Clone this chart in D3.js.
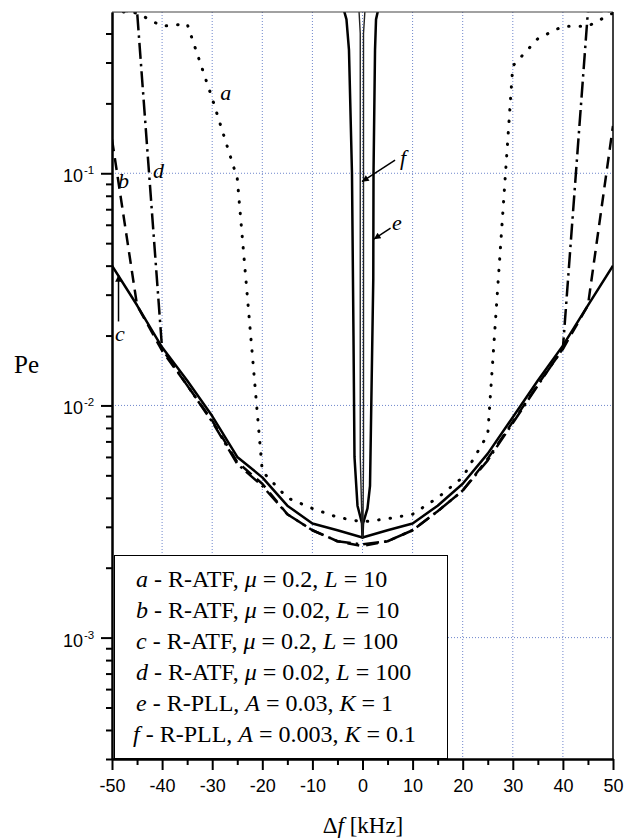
<!DOCTYPE html>
<html>
<head>
<meta charset="utf-8">
<script src="https://cdn.jsdelivr.net/npm/d3@7"></script>
<style>
  body { margin: 0; background: #fff; }
  svg { display: block; }
</style>
</head>
<body>
<svg id="chart"></svg>
<script>
// frequency offset grid (kHz) for the R-ATF curves
const freq = [-50, -45, -40, -35, -30, -25, -20, -15, -10, -5, 0, 5, 10, 15, 20, 25, 30, 35, 40, 45, 50];

// Pe values
const peA = [0.5, 0.49, 0.43, 0.44, 0.21, 0.095, 0.0052, 0.0040, 0.0036, 0.0033, 0.00315, 0.00325, 0.0034, 0.0040, 0.0049, 0.0075, 0.29, 0.38, 0.43, 0.43, 0.49];
const peB = [0.14, 0.027, 0.0172, 0.0122, 0.0086, 0.0057, 0.0046, 0.0034, 0.0029, 0.0026, 0.00248, 0.0026, 0.0029, 0.0035, 0.0043, 0.0059, 0.0085, 0.0123, 0.0175, 0.027, 0.16];
const peC = [0.040, 0.027, 0.0178, 0.0128, 0.0090, 0.0060, 0.0049, 0.0037, 0.0031, 0.0029, 0.0027, 0.0029, 0.0031, 0.0037, 0.0046, 0.0062, 0.0089, 0.0128, 0.0181, 0.027, 0.040];
const peD = [0.5, 0.5, 0.0175, 0.0122, 0.0085, 0.0056, 0.0045, 0.0034, 0.0029, 0.0026, 0.00252, 0.0026, 0.0029, 0.0035, 0.0043, 0.0058, 0.0084, 0.0122, 0.0176, 0.5, 0.5];

// R-PLL curves have their own narrow x grid
const freqE = [-4.2, -3.2, -2.7, -2.1, -1.8, -1.6, -1.0, -0.1, 0, 0.1, 1.0, 1.5, 2.15, 2.2, 2.5, 2.7, 3.5];
const peE = [0.55, 0.46, 0.34, 0.1, 0.02, 0.006, 0.0037, 0.0031, 0.0027, 0.0031, 0.0036, 0.0045, 0.035, 0.1, 0.34, 0.46, 0.55];
const freqF = [-0.8, -0.45, -0.45, -0.1, 0, 0.1, 0.2, 0.2, 0.6];
const peF = [0.55, 0.4, 0.006, 0.0031, 0.0027, 0.0031, 0.006, 0.4, 0.55];

// legend rows
const legKey = ["a", "b", "c", "d", "e", "f"];
const legMethod = ["R-ATF", "R-ATF", "R-ATF", "R-ATF", "R-PLL", "R-PLL"];
const legP1 = ["\u03bc", "\u03bc", "\u03bc", "\u03bc", "A", "A"];
const legV1 = ["0.2", "0.02", "0.2", "0.02", "0.03", "0.003"];
const legP2 = ["L", "L", "L", "L", "K", "K"];
const legV2 = ["10", "10", "100", "100", "1", "0.1"];

// curve labels + arrows (data coords)
const labKey = ["a", "b", "c", "d", "e", "f"];
const labX = [-28.4, -48.8, -49.4, -41.8, 5.9, 7.5];
const labY = [0.207, 0.0865, 0.019, 0.0955, 0.057, 0.109];
const arrows = [
  { x1: -48.7, y1: 0.023, x2: -48.7, y2: 0.0365 },  // c
  { x1: 5.6, y1: 0.058, x2: 2.25, y2: 0.052 },      // e
  { x1: 6.5, y1: 0.114, x2: -0.1, y2: 0.092 }       // f
];

const xTicks = [-50, -40, -30, -20, -10, 0, 10, 20, 30, 40, 50];
const yDecades = [1e-3, 1e-2, 1e-1];
const yExp = ["-3", "-2", "-1"];

const W = 635, H = 838;
const pL = 112, pR = 613, pT = 12, pB = 759;

const svg = d3.select("#chart").attr("width", W).attr("height", H);

const x = d3.scaleLinear().domain([-50, 50]).range([pL, pR]);
const y = d3.scaleLog().domain([3e-4, 0.495]).range([pB, pT]);

const sans = "'Liberation Sans', Arial, sans-serif";
const serif = "'Liberation Serif', 'Times New Roman', serif";
const gridCol = "#6f86cc";

const defs = svg.append("defs");
defs.append("clipPath").attr("id", "clip")
  .append("rect").attr("x", pL).attr("y", pT).attr("width", pR - pL).attr("height", pB - pT);

const marker = defs.append("marker")
  .attr("id", "arrow").attr("viewBox", "0 0 10 10").attr("refX", 10).attr("refY", 5)
  .attr("markerWidth", 7).attr("markerHeight", 4.5).attr("orient", "auto")
  .attr("markerUnits", "strokeWidth");
marker.append("path").attr("d", "M0,0 L10,5 L0,10 z").attr("fill", "#000");

// grid
const grid = svg.append("g");
grid.selectAll("line.v").data(xTicks.filter(d => d > -50 && d < 50)).enter().append("line")
  .attr("x1", d => x(d)).attr("x2", d => x(d)).attr("y1", pT).attr("y2", pB)
  .attr("stroke", gridCol).attr("stroke-width", 1).attr("stroke-dasharray", "1,2");
grid.selectAll("line.h").data(yDecades).enter().append("line")
  .attr("x1", pL).attr("x2", pR).attr("y1", d => y(d)).attr("y2", d => y(d))
  .attr("stroke", gridCol).attr("stroke-width", 1).attr("stroke-dasharray", "1,2");

// curves
const line = d3.line().x(d => x(d[0])).y(d => y(d[1]));
const series = [
  { xs: freq, ys: peA, dash: "0.5,11", w: 3, cap: "round", col: "#000" },
  { xs: freq, ys: peB, dash: "12,7", w: 2.5, cap: "butt", col: "#000" },
  { xs: freq, ys: peD, dash: "16,5,2.5,5", w: 2.5, cap: "butt", col: "#000" },
  { xs: freq, ys: peC, dash: null, w: 2.5, cap: "butt", col: "#000" },
  { xs: freqE, ys: peE, dash: null, w: 2.5, cap: "butt", col: "#000" },
  { xs: freqF, ys: peF, dash: null, w: 1.4, cap: "butt", col: "#222" }
];
const curves = svg.append("g").attr("clip-path", "url(#clip)");
series.forEach(s => {
  curves.append("path")
    .attr("d", line(s.xs.map((v, i) => [v, s.ys[i]])))
    .attr("fill", "none").attr("stroke", s.col).attr("stroke-width", s.w)
    .attr("stroke-linecap", s.cap).attr("stroke-linejoin", "round")
    .attr("stroke-dasharray", s.dash);
});

// arrows and curve labels
svg.append("g").selectAll("line").data(arrows).enter().append("line")
  .attr("x1", d => x(d.x1)).attr("y1", d => y(d.y1))
  .attr("x2", d => x(d.x2)).attr("y2", d => y(d.y2))
  .attr("stroke", "#000").attr("stroke-width", 1.5).attr("marker-end", "url(#arrow)");
svg.append("g").selectAll("text").data(labKey).enter().append("text")
  .attr("x", (d, i) => x(labX[i])).attr("y", (d, i) => y(labY[i]))
  .attr("font-family", serif).attr("font-style", "italic").attr("font-size", 22)
  .text(d => d);

// legend box
const leg = svg.append("g");
leg.append("rect").attr("x", 114.5).attr("y", 555.5).attr("width", 333).attr("height", 203)
  .attr("fill", "#fff").attr("stroke", "#000").attr("stroke-width", 1);
legKey.forEach((k, i) => {
  const t = leg.append("text").attr("x", i === 5 ? 133 : 136).attr("y", 587 + i * 31)
    .attr("font-family", serif).attr("font-size", 24).attr("xml:space", "preserve");
  t.append("tspan").attr("font-style", "italic").text(k);
  t.append("tspan").text(" - " + legMethod[i] + ", ");
  t.append("tspan").attr("font-style", "italic").text(legP1[i]);
  t.append("tspan").text(" = " + legV1[i] + ", ");
  t.append("tspan").attr("font-style", "italic").text(legP2[i]);
  t.append("tspan").text(" = " + legV2[i]);
});

// axes
const xAxis = svg.append("g").attr("transform", `translate(0,${pB})`)
  .call(d3.axisBottom(x).tickValues(xTicks).tickSize(11).tickSizeOuter(0).tickPadding(9).tickFormat(d => String(d)));
svg.append("g").attr("transform", `translate(0,${pB})`)
  .call(d3.axisBottom(x).tickValues(xTicks.slice(0, -1).map(d => d + 5)).tickSize(6).tickSizeOuter(0).tickFormat(""));

const yMinor = [];
[-4, -3, -2, -1].forEach(e => {
  for (let k = 2; k <= 9; k++) {
    const v = k * Math.pow(10, e);
    if (v >= 3e-4 && v <= 0.495) yMinor.push(v);
  }
});
svg.append("g").attr("transform", `translate(${pL},0)`)
  .call(d3.axisLeft(y).tickValues(yDecades).tickSize(11).tickSizeOuter(0).tickFormat(""));
svg.append("g").attr("transform", `translate(${pL},0)`)
  .call(d3.axisLeft(y).tickValues(yMinor).tickSize(6).tickSizeOuter(0).tickFormat(""));

svg.selectAll(".domain").attr("stroke-width", 2);
svg.selectAll(".tick line").attr("stroke-width", 2);
xAxis.selectAll(".tick text").attr("font-family", sans).attr("font-size", 18).attr("fill", "#000");

// y tick labels 10^n
const yl = svg.append("g");
yDecades.forEach((d, i) => {
  yl.append("text").attr("x", 83).attr("y", y(d) + 9).attr("text-anchor", "end")
    .attr("font-family", sans).attr("font-size", 18).text("10");
  yl.append("text").attr("x", 84).attr("y", y(d) + 1)
    .attr("font-family", sans).attr("font-size", 11.5).text(yExp[i]);
});

// frame: top and right
svg.append("line").attr("x1", pL).attr("x2", pR).attr("y1", pT).attr("y2", pT)
  .attr("stroke", "#444").attr("stroke-width", 1.2);
svg.append("line").attr("x1", pR).attr("x2", pR).attr("y1", pT).attr("y2", pB)
  .attr("stroke", "#000").attr("stroke-width", 1.5);

// axis titles
svg.append("text").attr("x", 14).attr("y", 373)
  .attr("font-family", serif).attr("font-size", 25).text("Pe");
const xt = svg.append("text").attr("x", 363).attr("y", 833).attr("text-anchor", "middle")
  .attr("font-family", serif).attr("font-size", 23).attr("xml:space", "preserve");
xt.append("tspan").text("\u0394");
xt.append("tspan").attr("font-style", "italic").text("f");
xt.append("tspan").text(" [kHz]");
</script>
</body>
</html>
